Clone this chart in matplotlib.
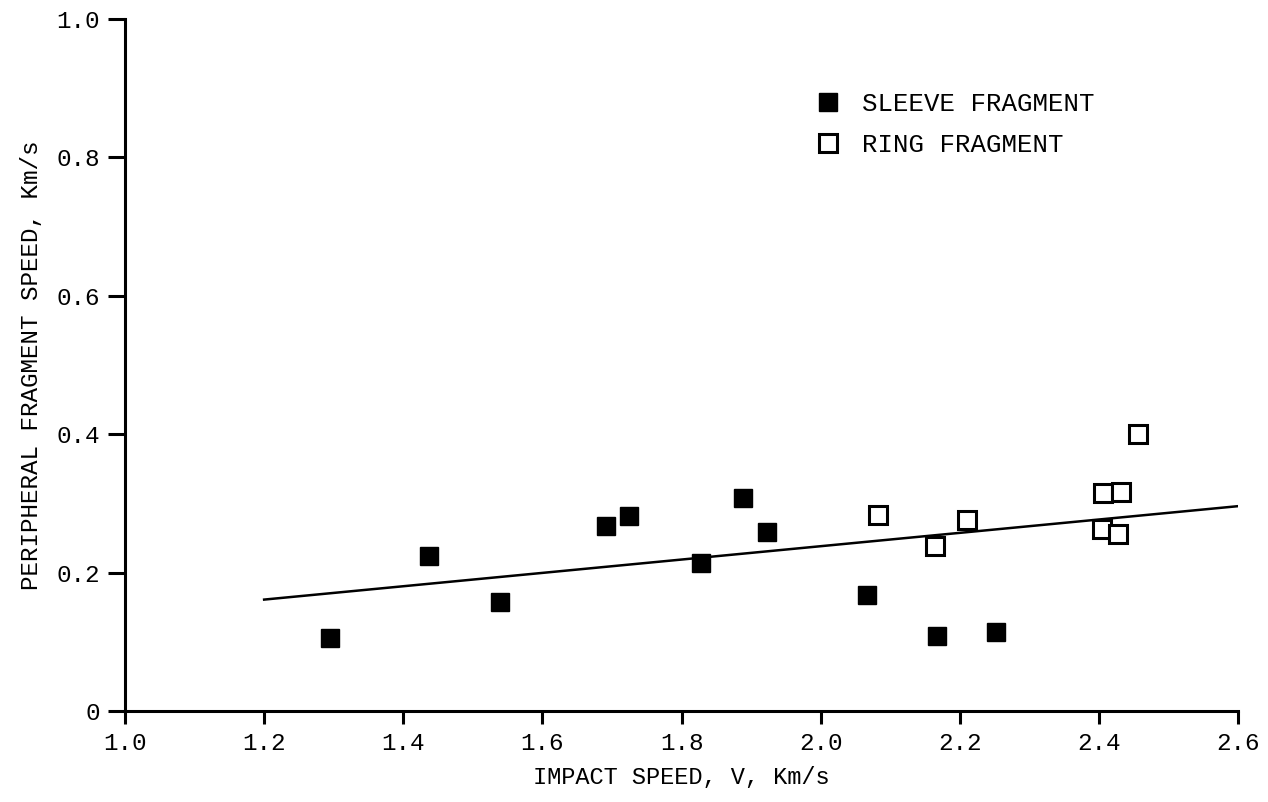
import matplotlib
matplotlib.use("Agg")
import matplotlib.pyplot as plt

# Data
sleeve_x = [1.295, 1.437, 1.539, 1.691, 1.725, 1.828, 1.888, 1.923, 2.067, 2.167, 2.252]
sleeve_y = [0.105, 0.224, 0.158, 0.267, 0.282, 0.214, 0.308, 0.259, 0.168, 0.108, 0.114]
ring_x = [2.083, 2.164, 2.210, 2.406, 2.432, 2.405, 2.428, 2.456]
ring_y = [0.283, 0.238, 0.276, 0.315, 0.316, 0.263, 0.256, 0.400]
fit_x = [1.2, 2.6]
fit_y = [0.161, 0.296]
xticks = [1.0, 1.2, 1.4, 1.6, 1.8, 2.0, 2.2, 2.4, 2.6]
xticklabels = ["1.0", "1.2", "1.4", "1.6", "1.8", "2.0", "2.2", "2.4", "2.6"]
yticks = [0, 0.2, 0.4, 0.6, 0.8, 1.0]
yticklabels = ["0", "0.2", "0.4", "0.6", "0.8", "1.0"]

plt.rcParams['font.family'] = ['Liberation Mono', 'DejaVu Sans Mono']

fig = plt.figure(figsize=(12.68, 8.02), dpi=100)
ax = fig.add_axes([125/1268, 1-711/802, (1238-125)/1268, (711-19)/802])

ax.plot(fit_x, fit_y, color='black', lw=1.8, zorder=2)
ax.plot(sleeve_x, sleeve_y, linestyle='none', marker='s', markersize=13.5,
        markerfacecolor='black', markeredgecolor='black', label='SLEEVE FRAGMENT', zorder=3)
ax.plot(ring_x, ring_y, linestyle='none', marker='s', markersize=12.5,
        markerfacecolor='white', markeredgecolor='black', markeredgewidth=2.2,
        label='RING FRAGMENT', zorder=3)

ax.set_xlim(1.0, 2.6)
ax.set_ylim(0, 1.0)
for s in ['top', 'right']:
    ax.spines[s].set_visible(False)
for s in ['left', 'bottom']:
    ax.spines[s].set_linewidth(2.2)

ax.set_xticks(xticks)
ax.set_xticklabels(xticklabels)
ax.set_yticks(yticks)
ax.set_yticklabels(yticklabels)
ax.tick_params(axis='x', direction='out', length=9, width=2.2, pad=6, labelsize=17.5)
ax.tick_params(axis='y', direction='out', length=12, width=2.2, pad=6, labelsize=17.5)

ax.set_xlabel('IMPACT SPEED, V, Km/s', fontsize=17, labelpad=8)
ax.set_ylabel('PERIPHERAL FRAGMENT SPEED, Km/s', fontsize=17.5, labelpad=10)

ax.legend(loc='upper left', bbox_to_anchor=(0.621, 0.895), frameon=False,
          fontsize=18.5, handlelength=0.95, handletextpad=0.85, labelspacing=0.68,
          borderaxespad=0, borderpad=0)

fig.savefig('out.png', dpi=100)
